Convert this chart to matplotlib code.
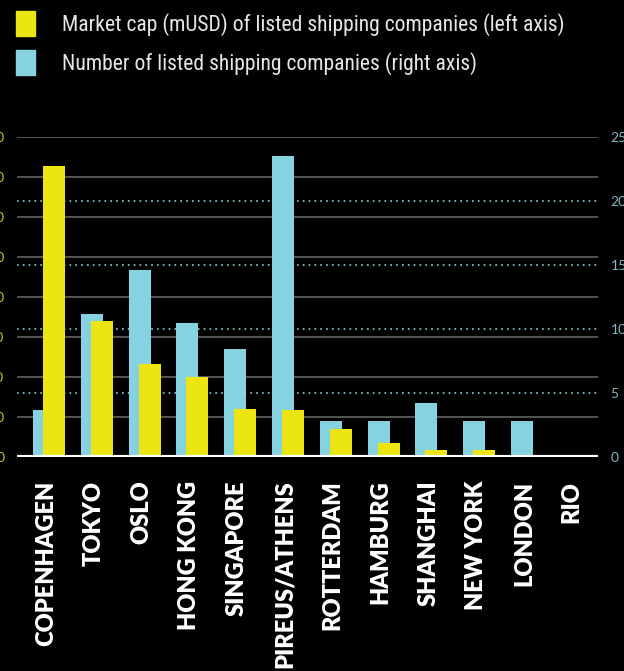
import numpy as np
import matplotlib.pyplot as plt
from matplotlib.patches import Patch

# Data

cities = ['COPENHAGEN', 'TOKYO', 'OSLO', 'HONG KONG', 'SINGAPORE', 'PIREUS/ATHENS',
          'ROTTERDAM', 'HAMBURG', 'SHANGHAI', 'NEW YORK', 'LONDON', 'RIO']
market_cap = [36400, 17000, 11650, 10000, 6000, 5900, 3500, 1750, 875, 850, 0, 0]
n_companies = [3.7, 11.2, 14.6, 10.5, 8.4, 23.5, 2.8, 2.8, 4.2, 2.8, 2.8, 0]

left_ticks = np.arange(0, 40001, 5000)
right_ticks = [0, 5, 10, 15, 20, 25]

yellow = '#ece512'
cyan = '#85d3e0'

# Figure

plt.rcParams['font.family'] = ['Lato', 'DejaVu Sans']
fig = plt.figure(figsize=(6.24, 6.71), dpi=100, facecolor='black')
ax = fig.add_axes([0.0272, 0.3189, 0.9311, 0.4769], facecolor='black')
ax2 = ax.twinx()

x = np.arange(len(cities))
w = 0.46

ax.set_zorder(1)
ax2.set_zorder(2)
ax2.patch.set_visible(False)

ax.set_ylim(0, 40000)
ax2.set_ylim(0, 25)
ax.set_xlim(-0.565, 11.59)

# grid lines
for t in left_ticks:
    ax.axhline(t, color='#5a5a5a', lw=1.3, zorder=0)
for t in right_ticks[1:-1]:
    ax2.axhline(t, color='#8ecfd8', lw=1.2, ls=(0, (1, 2.5)), zorder=0)

# market cap is drawn in right-axis units so both sets of bars share one axes (keeps yellow on top)
bars_c = ax2.bar(x, n_companies, width=w, color=cyan, zorder=3)
bars_y = ax2.bar(x + 0.21, np.array(market_cap) / 40000 * 25, width=w, color=yellow, zorder=4)
ax2.axhline(0, color='white', lw=3, zorder=5)

ax.set_yticks(left_ticks)
ax.set_yticklabels([f'{t}' for t in left_ticks])
ax2.set_yticks(right_ticks)
ax.tick_params(axis='y', length=0, pad=9, labelcolor='#c9c31a', labelsize=10)
ax2.tick_params(axis='y', length=0, pad=9, labelcolor='#7fb6c0', labelsize=10)

ax.set_xticks(x + 0.04)
ax.set_xticklabels(cities, rotation=90, va='top', ha='center', color='white',
                   fontsize=17, fontweight='heavy')
ax.tick_params(axis='x', length=0, pad=17)

for a in (ax, ax2):
    for s in a.spines.values():
        s.set_visible(False)

# legend
handles = [Patch(color=yellow), Patch(color=cyan)]
labels = ['Market cap (mUSD) of listed shipping companies (left axis)',
          'Number of listed shipping companies (right axis)']
fig.legend(handles, labels, loc='upper left', bbox_to_anchor=(-0.005, 1.012),
           frameon=False, labelcolor='#e6e6e6',
           prop={'family': ['Roboto Condensed', 'Lato'], 'size': 15.6},
           handlelength=0.85, handleheight=1.4, handletextpad=1.25,
           labelspacing=0.62)

fig.savefig('out.png', dpi=100, facecolor='black')
